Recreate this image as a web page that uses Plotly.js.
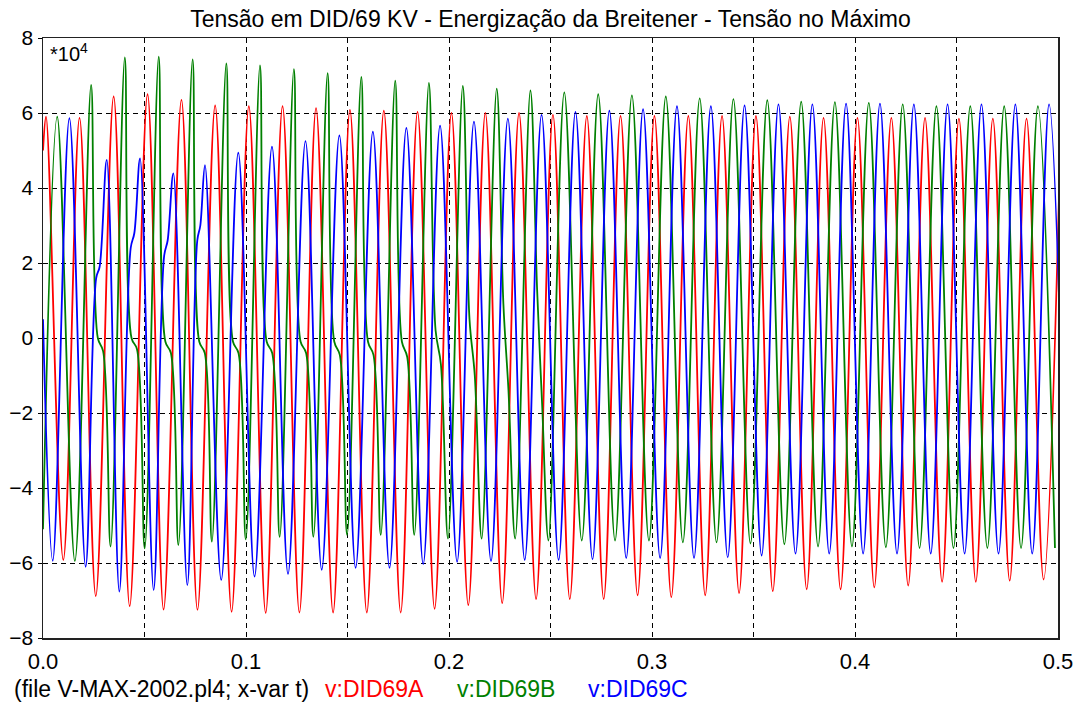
<!DOCTYPE html>
<html><head><meta charset="utf-8">
<script src="https://cdn.plot.ly/plotly-3.0.1.min.js"></script>
<style>html,body{margin:0;padding:0;background:#fff}#plot{width:1080px;height:707px}</style>
</head><body><div id="plot"></div>
<script>
// Units: 10^4 V ; time in s
const chartTitle = 'Tensão em DID/69 KV - Energização da Breitener - Tensão no Máximo';
const seriesNames = ['v:DID69A', 'v:DID69B', 'v:DID69C'];
const xTickVals = [0, 0.1, 0.2, 0.3, 0.4, 0.5];
const xTickText = ['0.0', '0.1', '0.2', '0.3', '0.4', '0.5'];
const yTickVals = [-8, -6, -4, -2, 0, 2, 4, 6, 8];

// ---- Phase A (red) ----
const aStartT = [0];
const aStartV = [5.0];
const aPeakT = [0.0015,0.0180,0.0348,0.0515,0.0682,0.0848,0.1014,0.1180,0.1345,0.1512,0.1679,0.1845,0.2012,0.2179,0.2345,0.2512,0.2679,0.2845,0.3012,0.3179,0.3345,0.3512,0.3679,0.3845,0.4012,0.4179,0.4345,0.4512,0.4679,0.4845,0.5015];
const aPeakV = [5.9,5.87,6.44,6.5,6.35,6.2,6.18,6.18,6.13,6.08,6.06,6.03,6.0,6.0,6.0,5.95,5.92,5.92,5.92,5.92,5.92,5.92,5.9,5.87,5.87,5.87,5.87,5.85,5.85,5.85,5.85];
const aTroughT = [0.0100,0.0260,0.0427,0.0594,0.0761,0.0929,0.1097,0.1263,0.1429,0.1595,0.1762,0.1929,0.2095,0.2262,0.2429,0.2595,0.2762,0.2929,0.3095,0.3262,0.3429,0.3595,0.3762,0.3929,0.4095,0.4262,0.4429,0.4595,0.4762,0.4929];
const aTroughV = [-5.92,-6.88,-7.15,-7.24,-7.25,-7.3,-7.33,-7.32,-7.32,-7.32,-7.32,-7.22,-7.12,-7.07,-6.96,-6.96,-6.96,-6.86,-6.91,-6.86,-6.8,-6.75,-6.7,-6.7,-6.65,-6.6,-6.5,-6.5,-6.47,-6.44];

// ---- Phase B (green) ----
const bStartT = [0];
const bStartV = [-5.1];
const bPeakT = [0.0070,0.0237,0.0403,0.0570,0.0737,0.0903,0.1069,0.1236,0.1402,0.1568,0.1735,0.1901,0.2068,0.2235,0.2401,0.2568,0.2735,0.2901,0.3068,0.3235,0.3401,0.3568,0.3735,0.3901,0.4068,0.4235,0.4401,0.4568,0.4735,0.4901];
const bPeakV = [5.9,6.75,7.48,7.5,7.43,7.32,7.27,7.17,7.06,6.96,6.86,6.8,6.72,6.65,6.6,6.55,6.5,6.47,6.44,6.39,6.37,6.34,6.3,6.29,6.27,6.23,6.18,6.18,6.18,6.18];
const bTroughT = [0.0157,0.0333,0.0501,0.0667,0.0832,0.0999,0.1166,0.1332,0.1498,0.1664,0.1829,0.1995,0.2161,0.2326,0.2490,0.2654,0.2818,0.2985,0.3152,0.3318,0.3485,0.3652,0.3818,0.3985,0.4152,0.4318,0.4485,0.4652,0.4818,0.4985];
const bTroughV = [-5.95,-5.56,-5.61,-5.52,-5.43,-5.37,-5.3,-5.3,-5.25,-5.25,-5.25,-5.35,-5.35,-5.35,-5.4,-5.4,-5.4,-5.4,-5.45,-5.45,-5.48,-5.5,-5.56,-5.56,-5.58,-5.6,-5.6,-5.6,-5.6,-5.6];
// flat step near zero on the falling side (early cycles)
const bStepT = [0.0270,0.0296,0.0436,0.0463,0.0603,0.0630,0.0770,0.0797,0.0936,0.0963,0.1102,0.1129,0.1269,0.1296,0.1435,0.1462,0.1601,0.1628,0.1768,0.1794,0.1934,0.1960,0.2101,0.2127,0.2268,0.2293,0.2434,0.2459];
const bStepV = [0.0,-0.35,0.0,-0.3,-0.1,-0.4,-0.1,-0.4,-0.1,-0.4,-0.1,-0.4,-0.1,-0.4,-0.1,-0.45,-0.1,-0.45,-0.1,-0.5,0.2,-0.7,0.5,-1.0,0.9,-1.4,1.3,-1.8];

// ---- Phase C (blue) ----
const cStartT = [0];
const cStartV = [0.5];
const cPeakT = [0.0130,0.0314,0.0478,0.0642,0.0798,0.0962,0.1128,0.1293,0.1460,0.1625,0.1790,0.1956,0.2123,0.2290,0.2456,0.2623,0.2790,0.2956,0.3123,0.3290,0.3456,0.3623,0.3790,0.3956,0.4123,0.4290,0.4456,0.4623,0.4790,0.4956];
const cPeakV = [5.86,4.75,4.79,4.39,4.61,4.94,5.1,5.25,5.4,5.5,5.6,5.66,5.77,5.85,5.95,6.03,6.06,6.1,6.18,6.18,6.2,6.23,6.23,6.25,6.25,6.23,6.23,6.23,6.23,6.23];
const cTroughT = [0.0048,0.0210,0.0376,0.0545,0.0711,0.0878,0.1042,0.1207,0.1373,0.1540,0.1707,0.1873,0.2040,0.2207,0.2373,0.2540,0.2707,0.2873,0.3040,0.3207,0.3373,0.3540,0.3707,0.3873,0.4040,0.4207,0.4373,0.4540,0.4707,0.4873,0.5040];
const cTroughV = [-5.94,-6.1,-6.76,-6.72,-6.59,-6.45,-6.36,-6.29,-6.18,-6.13,-6.13,-6.03,-5.97,-5.95,-5.92,-5.92,-5.9,-5.87,-5.87,-5.87,-5.85,-5.8,-5.75,-5.75,-5.75,-5.75,-5.75,-5.75,-5.75,-5.75,-5.75];
// shoulder on the rising side (early cycles)
const cShoulderT = [0.0262,0.0279,0.0432,0.0450,0.0597,0.0614,0.0760,0.0775];
const cShoulderV = [1.6,1.9,2.4,2.8,2.2,2.6,2.6,3.0];

function merge(parts) {
  const pts = [];
  parts.forEach(([ts, vs]) => ts.forEach((t, i) => pts.push([t, vs[i]])));
  pts.sort((p, q) => p[0] - q[0]);
  return { x: pts.map(p => p[0]), y: pts.map(p => p[1]) };
}

const A = merge([[aStartT, aStartV], [aPeakT, aPeakV], [aTroughT, aTroughV]]);
const B = merge([[bStartT, bStartV], [bPeakT, bPeakV], [bTroughT, bTroughV], [bStepT, bStepV]]);
const C = merge([[cStartT, cStartV], [cPeakT, cPeakV], [cTroughT, cTroughV], [cShoulderT, cShoulderV]]);

const colors = ['#ff0000', '#008000', '#0000ff'];
const traces = [A, B, C].map((d, i) => ({
  x: d.x, y: d.y, type: 'scatter', mode: 'lines', name: seriesNames[i],
  line: { color: colors[i], width: 1.8, shape: 'spline', smoothing: 1 },
  hoverinfo: 'skip'
}));

const FONT = 'Arial, "Liberation Sans", sans-serif';
const dash = '5px,4px';
const layout = {
  width: 1080, height: 707,
  margin: { l: 43, r: 22, t: 38, b: 69 },
  paper_bgcolor: '#fff', plot_bgcolor: '#fff',
  showlegend: false,
  font: { family: FONT, size: 22, color: '#000' },
  title: { text: chartTitle, x: 0.5, xref: 'paper', xanchor: 'center', y: 1 - 19 / 707, yref: 'container', yanchor: 'middle', font: { family: FONT, size: 23, color: '#000' } },
  xaxis: {
    range: [0, 0.5], tickvals: xTickVals, ticktext: xTickText,
    showgrid: true, gridcolor: '#000', gridwidth: 1, griddash: dash,
    minor: { tickvals: [0.05, 0.15, 0.25, 0.35, 0.45], showgrid: true, gridcolor: '#000', gridwidth: 1, griddash: dash },
    zeroline: false, showline: true, linecolor: '#222', linewidth: 1.5, mirror: true,
    ticks: '', ticklabelstandoff: 3, tickfont: { family: FONT, size: 22, color: '#000' }
  },
  yaxis: {
    range: [-8, 8], tickvals: yTickVals,
    showgrid: true, gridcolor: '#000', gridwidth: 1, griddash: dash,
    zeroline: false, showline: true, linecolor: '#222', linewidth: 1.5, mirror: true,
    ticks: 'outside', ticklen: 4, tickcolor: '#000', ticklabelstandoff: 0,
    tickfont: { family: FONT, size: 21, color: '#000' }
  },
  annotations: [
    { xref: 'paper', yref: 'paper', x: 0.005, y: 1.0, xanchor: 'left', yanchor: 'top', showarrow: false,
      text: '*10<sup>4</sup>', font: { family: FONT, size: 20, color: '#000' } },
    { xref: 'paper', yref: 'paper', x: -0.0305, y: -0.085, xanchor: 'left', yanchor: 'middle', showarrow: false,
      text: '(file V-MAX-2002.pl4; x-var t)', font: { family: FONT, size: 23, color: '#000' } },
    { xref: 'paper', yref: 'paper', x: 0.2758, y: -0.085, xanchor: 'left', yanchor: 'middle', showarrow: false,
      text: seriesNames[0], font: { family: FONT, size: 23, color: colors[0] } },
    { xref: 'paper', yref: 'paper', x: 0.4059, y: -0.085, xanchor: 'left', yanchor: 'middle', showarrow: false,
      text: seriesNames[1], font: { family: FONT, size: 23, color: colors[1] } },
    { xref: 'paper', yref: 'paper', x: 0.5350, y: -0.085, xanchor: 'left', yanchor: 'middle', showarrow: false,
      text: seriesNames[2], font: { family: FONT, size: 23, color: colors[2] } }
  ]
};

Plotly.newPlot('plot', traces, layout, { staticPlot: true, displayModeBar: false });
</script>
</body></html>
